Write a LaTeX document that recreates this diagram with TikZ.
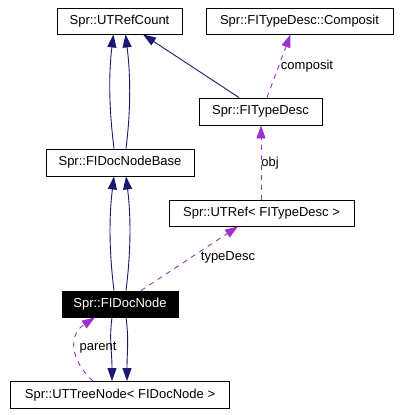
\documentclass[tikz,border=0pt]{standalone}
\usepackage{fontspec}
\setmainfont{Liberation Sans}
\usetikzlibrary{arrows.meta}
\definecolor{navyc}{HTML}{191970}
\definecolor{purp}{HTML}{9A32CD}
\begin{document}
\begin{tikzpicture}[x=1pt,y=-1pt,
  every node/.style={font=\fontsize{13}{15}\selectfont},
  cls/.style={draw=black,line width=0.9pt,fill=white,inner sep=0pt,anchor=center},
  cur/.style={cls,fill=black,text=white},
  inh/.style={draw=navyc,line width=0.9pt,-{Triangle[length=13pt,width=9pt,fill=navyc]}},
  usage/.style={draw=purp,line width=0.9pt,dash pattern=on 5pt off 5pt,-{Triangle[length=13pt,width=9pt,fill=purp]}},
  lbl/.style={inner sep=0pt,anchor=center}]
\useasboundingbox (0,0) rectangle (400,415);
\node[cls,minimum width=125pt,minimum height=26pt] (rc) at (119.5,21) {Spr::UTRefCount};
\node[cls,minimum width=187pt,minimum height=26pt] (comp) at (299.5,21) {Spr::FITypeDesc::Composit};
\node[cls,minimum width=123pt,minimum height=27pt] (td) at (260.5,111.5) {Spr::FITypeDesc};
\node[cls,minimum width=148pt,minimum height=27pt] (base) at (120,162.5) {Spr::FIDocNodeBase};
\node[cls,minimum width=185pt,minimum height=26pt] (ref) at (261.5,213) {Spr::UTRef< FITypeDesc >};
\node[cur,minimum width=116pt,minimum height=26pt] (dn) at (120,304) {Spr::FIDocNode};
\node[cls,minimum width=219pt,minimum height=27pt] (tree) at (120,395) {Spr::UTTreeNode< FIDocNode >};
% inheritance
\draw[inh] ([xshift=-6pt]base.north) .. controls ([xshift=-11pt,yshift=40pt]base.north) and ([xshift=-11pt,yshift=-40pt]rc.south) .. ([xshift=-6pt]rc.south);
\draw[inh] ([xshift=6pt]base.north) .. controls ([xshift=11pt,yshift=40pt]base.north) and ([xshift=11pt,yshift=-40pt]rc.south) .. ([xshift=6pt]rc.south);
\draw[inh] ([xshift=-6pt]dn.north) .. controls ([xshift=-11pt,yshift=40pt]dn.north) and ([xshift=-11pt,yshift=-40pt]base.south) .. ([xshift=-6pt]base.south);
\draw[inh] ([xshift=6pt]dn.north) .. controls ([xshift=11pt,yshift=40pt]dn.north) and ([xshift=11pt,yshift=-40pt]base.south) .. ([xshift=6pt]base.south);
\draw[inh] ([xshift=-8pt]dn.south) .. controls ([xshift=-11pt,yshift=-22pt]dn.south) and ([xshift=-8pt,yshift=30pt]tree.north) .. ([xshift=-8pt]tree.north);
\draw[inh] ([xshift=6pt]dn.south) .. controls ([xshift=9pt,yshift=-22pt]dn.south) and ([xshift=7pt,yshift=30pt]tree.north) .. ([xshift=7pt]tree.north);
\draw[inh] ([xshift=-21.5pt]td.north) -- ([xshift=23.5pt]rc.south);
% usage
\draw[usage] ([xshift=6.5pt]td.north) -- ([xshift=-9pt]comp.south);
\node[lbl] (lcomp) at (307,66) {composit};
\draw[usage] ([xshift=-0.5pt]ref.north) -- ([xshift=0.5pt]td.south);
\node[lbl] (lobj) at (270,163) {obj};
\draw[usage] ([xshift=21pt]dn.north) -- ([xshift=-23.5pt]ref.south);
\node[lbl] (ltd) at (228,257) {typeDesc};
\draw[usage] ([xshift=-27pt]tree.north) .. controls (70,360) and (68,335) .. ([xshift=-25pt]dn.south);
\node[lbl] (lpar) at (98,348) {parent};
\end{tikzpicture}
\end{document}
